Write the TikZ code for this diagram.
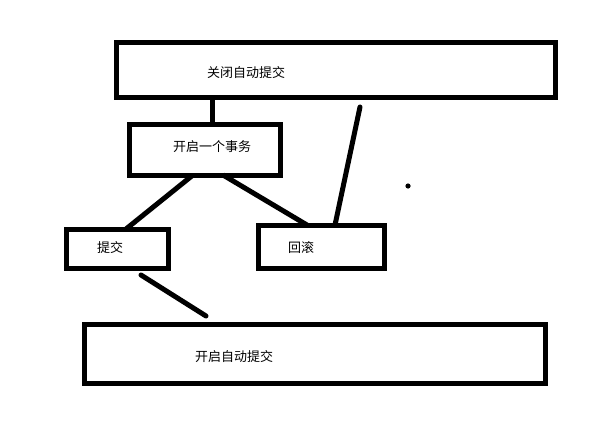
\documentclass[tikz,border=0pt]{standalone}
\usepackage{fontspec}
\newfontfamily\cjk{Noto Sans CJK SC}
\usetikzlibrary{calc}
\begin{document}
\begin{tikzpicture}[x=1pt,y=-1pt,
  box/.style={draw=black,line width=5pt,inner sep=0pt,outer sep=0pt,minimum width=#1},
  lbl/.style={anchor=west,inner sep=0pt,font=\cjk\fontsize{13pt}{13pt}\selectfont},
  conn/.style={line width=5pt}]
\useasboundingbox (0,0) rectangle (596,436);
\fill[white] (0,0) rectangle (596,436);
% boxes
\node[box=439pt,minimum height=54pt] (top) at (335.5,70) {};
\node[box=151pt,minimum height=51pt] (tx) at (204.5,149.5) {};
\node[box=102pt,minimum height=39pt] (commit) at (117,248.5) {};
\node[box=126pt,minimum height=43pt] (rollback) at (321,246.5) {};
\node[box=461pt,minimum height=59pt] (bottom) at (314.5,353.5) {};
% labels
\node[lbl] (ttop) at (207,73) {关闭自动提交};
\node[lbl] (ttx) at (173,147) {开启一个事务};
\node[lbl] (tcommit) at (97,248) {提交};
\node[lbl] (trollback) at (288,248) {回滚};
\node[lbl] (tbottom) at (195,357) {开启自动提交};
% free ends
\coordinate (f1) at (360,107);
\coordinate (f2) at (141,275);
\coordinate (f3) at (206,316);
% connectors
\draw[conn] ([xshift=-123.5pt]top.south) -- ([xshift=7.5pt]tx.north);
\draw[conn] ([xshift=-11.5pt]tx.south) -- ([xshift=9pt]commit.north);
\draw[conn] ([xshift=18.5pt]tx.south) -- ([xshift=-14pt]rollback.north);
\draw[conn,line cap=round] (f1) -- ([xshift=14pt]rollback.north);
\draw[conn,line cap=round] (f2) -- (f3);
% dot
\fill (408,186) circle (2.6pt);
\end{tikzpicture}
\end{document}
